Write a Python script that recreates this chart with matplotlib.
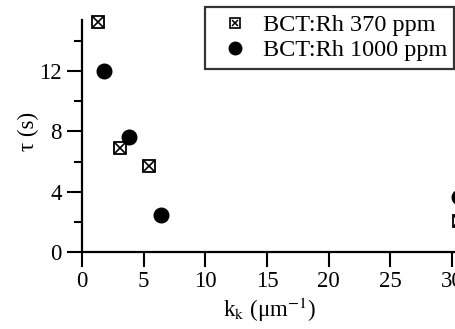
import matplotlib
matplotlib.use("Agg")
import matplotlib.pyplot as plt
from matplotlib.legend_handler import HandlerTuple
from matplotlib.lines import Line2D

plt.rcParams['font.family'] = ['Liberation Serif', 'DejaVu Serif']
plt.rcParams['mathtext.fontset'] = 'stix'

# Data
k_370 = [1.27, 3.08, 5.43, 30.6]
tau_370 = [15.25, 6.88, 5.70, 2.08]
k_1000 = [1.78, 3.81, 6.41, 30.6]
tau_1000 = [12.02, 7.6, 2.45, 3.67]
labels = ["BCT:Rh 370 ppm", "BCT:Rh 1000 ppm"]
xticks = [0, 5, 10, 15, 20, 25, 30]
yticks = [0, 4, 8, 12]
yminor = [2, 6, 10, 14]

fig = plt.figure(figsize=(4.55, 3.29), dpi=100)
ax = fig.add_axes([82/455, 77/329, 394.6/455, 232.2/329])
ax.set_xlim(0, 32)
ax.set_ylim(0, 15.4)

ax.plot(k_370, tau_370, ls='none', marker='s', ms=8.6, mfc='white', mec='black', mew=1.3, clip_on=False, zorder=3)
ax.plot(k_370, tau_370, ls='none', marker='x', ms=6.5, mec='black', mew=1.2, clip_on=False, zorder=4)
ax.plot(k_1000, tau_1000, ls='none', marker='o', ms=10.5, mfc='black', mec='black', clip_on=False, zorder=3)

for s in ['top', 'right']:
    ax.spines[s].set_visible(False)
for s in ['left', 'bottom']:
    ax.spines[s].set_linewidth(1.6)

ax.set_xticks(xticks)
ax.set_yticks(yticks)
ax.set_yticks(yminor, minor=True)
ax.tick_params(axis='both', which='major', direction='out', length=10.5, width=1.5, labelsize=16.5, pad=3)
ax.tick_params(axis='y', which='major', pad=4)
ax.tick_params(axis='y', which='minor', direction='out', length=6, width=1.5)

ax.set_xlabel(r"k$_{\mathrm{k}}$ (μm$^{\mathrm{-1}}$)", fontsize=16.5)
ax.xaxis.set_label_coords((270 - 82) / 394.6, -(310 - 252) / 232.2)
ax.xaxis.label.set_va('center')
ax.set_ylabel("τ (s)", fontsize=16.5)
ax.yaxis.set_label_coords(-(82 - 28) / 394.6, (252 - 131) / 232.2)
ax.yaxis.label.set_va('center')

sq = (Line2D([], [], ls='none', marker='s', ms=6.5, mfc='white', mec='black', mew=1.2),
      Line2D([], [], ls='none', marker='x', ms=5, mec='black', mew=1.1))
ci = Line2D([], [], ls='none', marker='o', ms=9, mfc='black', mec='black')
leg = fig.legend([sq, ci], labels, handler_map={tuple: HandlerTuple(ndivide=1)},
                 loc='upper left', bbox_to_anchor=(205/455, 1 - 7/329),
                 fontsize=17.5, frameon=True, fancybox=False, edgecolor='black',
                 borderpad=0.3, labelspacing=0.12, handlelength=1.85, handletextpad=0.22,
                 borderaxespad=0)
leg.get_frame().set_linewidth(1.6)

fig.savefig("out.png", dpi=100)
